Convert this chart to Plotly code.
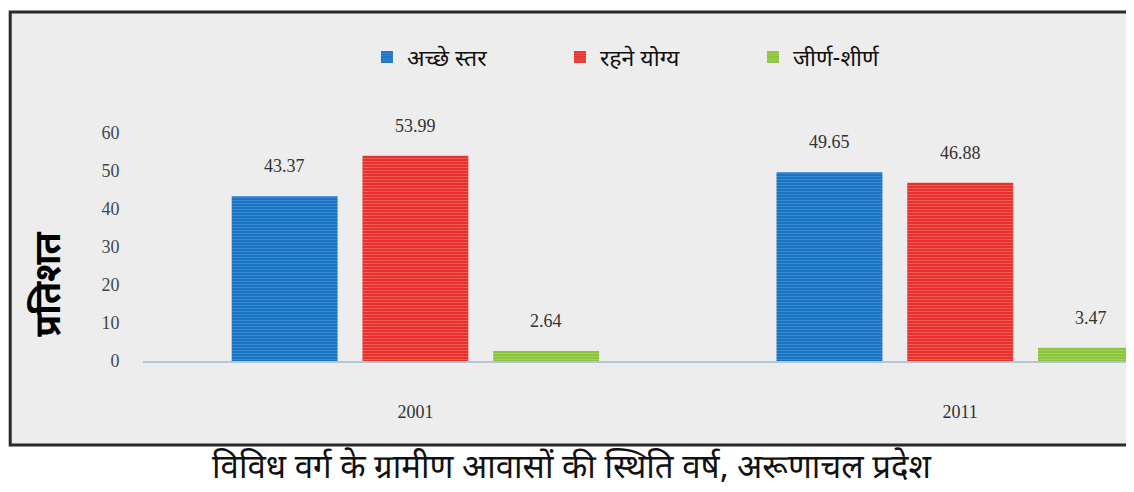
import plotly.graph_objects as go

years = ["2001", "2011"]
series_names = ["अच्छे स्तर", "रहने योग्य", "जीर्ण-शीर्ण"]
good = [43.37, 49.65]
livable = [53.99, 46.88]
dilapidated = [2.64, 3.47]
y_ticks = [0, 10, 20, 30, 40, 50, 60]
title_text = "विविध वर्ग के ग्रामीण आवासों की स्थिति वर्ष, अरूणाचल प्रदेश"
y_title = "प्रतिशत"

values = [good, livable, dilapidated]
base_colors = ["#1a74c4", "#e8302c", "#8cc43c"]
stripe_colors = ["#5aa2dc", "#f3847c", "#b8dc7c"]

xpos = list(range(len(years)))
bargap = 0.28
bargroupgap = 0.19

DEV = "Noto Sans Devanagari, Noto Sans, sans-serif"

fig = go.Figure()
for name, vals, bc, sc in zip(series_names, values, base_colors, stripe_colors):
    fig.add_trace(go.Bar(
        x=xpos, y=vals, name=name,
        marker=dict(color=bc, line=dict(width=0),
                    pattern=dict(shape="-", fgcolor=sc, bgcolor=bc, size=3, solidity=0.35)),
    ))

# data labels from data
n = len(series_names)
slot = (1 - bargap) / n
annotations = []
for i, vals in enumerate(values):
    for xi, v in zip(xpos, vals):
        annotations.append(dict(
            x=xi + (i - (n - 1) / 2) * slot, y=v, xref="x", yref="y",
            text=f"{v:.2f}", showarrow=False, yshift=30,
            xanchor="center", yanchor="middle",
            font=dict(family="Liberation Serif", size=18, color="#333333"),
        ))

annotations.append(dict(
    x=-0.093, y=0.338, xref="paper", yref="paper", text=f"<b>{y_title}</b>",
    textangle=-90, showarrow=False, xanchor="center", yanchor="middle",
    font=dict(family=DEV, size=36, color="#000000"),
))
annotations.append(dict(
    x=0.433, y=-0.475, xref="paper", yref="paper", text=title_text, showarrow=False,
    xanchor="center", yanchor="middle",
    font=dict(family=DEV, size=33, color="#111111"),
))

shapes = [dict(
    type="rect", xref="paper", yref="paper", x0=-0.134, x1=1.02, y0=-0.368, y1=1.531,
    fillcolor="#ededed", line=dict(color="#2a2a2a", width=3), layer="below",
)]

fig.update_layout(
    width=1126, height=484,
    margin=dict(l=135, r=0, t=125, b=131),
    paper_bgcolor="#ffffff", plot_bgcolor="rgba(0,0,0,0)",
    barmode="group", bargap=bargap, bargroupgap=bargroupgap,
    showlegend=True,
    legend=dict(orientation="h", x=0.226, y=1.333, xanchor="left", yanchor="middle",
                font=dict(family=DEV, size=23, color="#111111"),
                entrywidth=148, entrywidthmode="pixels", bgcolor="rgba(0,0,0,0)"),
    annotations=annotations, shapes=shapes,
    xaxis=dict(range=[-0.5, 1.319], tickvals=xpos, ticktext=years, showgrid=False,
               showline=True, linecolor="#b4c6d6", linewidth=2, zeroline=False,
               ticks="outside", ticklen=33, tickcolor="rgba(0,0,0,0)",
               tickfont=dict(family="Liberation Serif", size=18, color="#333333")),
    yaxis=dict(range=[0, 60], tickvals=y_ticks, showgrid=False, zeroline=False, showline=False,
               ticks="outside", ticklen=19, tickcolor="rgba(0,0,0,0)",
               tickfont=dict(family="Liberation Serif", size=18, color="#404850")),
)

fig.write_html("out.html")
